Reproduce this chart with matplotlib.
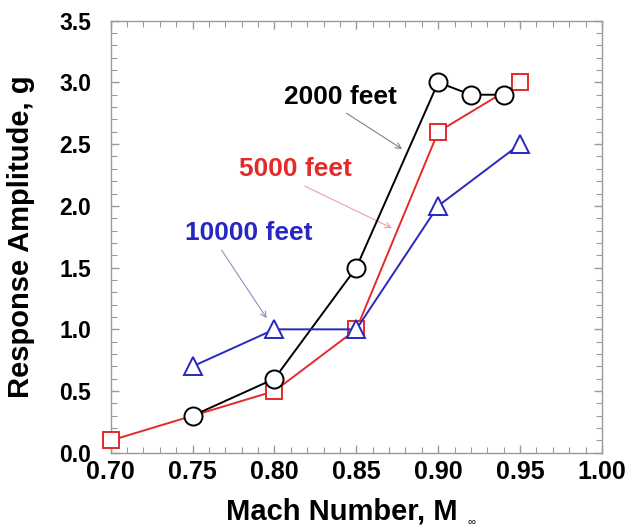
import matplotlib
matplotlib.use("Agg")
import matplotlib.pyplot as plt
from matplotlib.ticker import MultipleLocator

plt.rcParams['font.family'] = ['Liberation Sans', 'DejaVu Sans']
plt.rcParams['font.weight'] = 'bold'

# response amplitude vs Mach number at three altitudes
mach_2000 = [0.75, 0.80, 0.85, 0.90, 0.92, 0.94]
amp_2000 = [0.3, 0.6, 1.5, 3.0, 2.9, 2.9]

mach_5000 = [0.70, 0.80, 0.85, 0.90, 0.95]
amp_5000 = [0.1, 0.5, 1.0, 2.6, 3.0]

mach_10000 = [0.75, 0.80, 0.85, 0.90, 0.95]
amp_10000 = [0.7, 1.0, 1.0, 2.0, 2.5]

red = '#e42a2a'
blue = '#2828c0'
gray = '#9a9a9a'

fig = plt.figure(figsize=(6.29, 5.29), dpi=100)
ax = fig.add_axes([0.176, 0.144, 0.781, 0.817])

ax.plot(mach_5000, amp_5000, color=red, lw=1.4, marker='s', ms=11,
        mfc='white', mec=red, mew=1.4, zorder=3, clip_on=False)
ax.plot(mach_2000, amp_2000, color='black', lw=1.4, marker='o', ms=13,
        mfc='white', mec='black', mew=1.4, zorder=4, clip_on=False)
ax.plot(mach_10000, amp_10000, color=blue, lw=1.4, marker='^', ms=13,
        mfc='white', mec=blue, mew=1.4, zorder=5, clip_on=False)

# altitude labels with thin pointer arrows
labels = [('2000 feet', 'black', '#808080', (0.840, 2.88), (0.844, 2.75), (0.878, 2.46)),
          ('5000 feet', red, '#f0a0a0', (0.813, 2.30), (0.8185, 2.16), (0.8717, 1.82)),
          ('10000 feet', blue, '#9090c0', (0.784, 1.78), (0.7678, 1.64), (0.7953, 1.09))]
for txt, col, acol, pos, start, end in labels:
    ax.text(pos[0], pos[1], txt, color=col, fontsize=19, fontweight='bold',
            ha='center', va='center')
    ax.annotate('', xy=end, xytext=start,
                arrowprops=dict(arrowstyle='->', color=acol, lw=0.8,
                                shrinkA=0, shrinkB=0))

ax.set_xlim(0.70, 1.00)
ax.set_ylim(0.0, 3.5)
ax.xaxis.set_major_locator(MultipleLocator(0.05))
ax.xaxis.set_minor_locator(MultipleLocator(0.01))
ax.yaxis.set_major_locator(MultipleLocator(0.5))
ax.yaxis.set_minor_locator(MultipleLocator(0.1))
ax.xaxis.set_major_formatter(lambda v, p: f'{v:.2f}')
ax.yaxis.set_major_formatter(lambda v, p: f'{v:.1f}')

ax.tick_params(which='both', direction='in', top=True, right=True, color=gray)
ax.tick_params(which='major', length=6, width=1)
ax.tick_params(which='minor', length=4, width=0.8)
ax.tick_params(axis='x', labelsize=18, pad=5)
ax.tick_params(axis='y', labelsize=16.5, pad=14)
for s in ax.spines.values():
    s.set_color(gray)
    s.set_linewidth(1)

ax.set_xlabel('Mach Number, M', fontsize=21, fontweight='bold')
ax.xaxis.set_label_coords(0.4695, -0.104)
ax.text(0.735, -0.158, '\u221e', transform=ax.transAxes, fontsize=8,
        fontweight='normal', ha='center', va='center', color='black')
ax.set_ylabel('Response Amplitude, g', fontsize=21, fontweight='bold')
ax.yaxis.set_label_coords(-0.155, 0.5)

fig.savefig('out.png', dpi=100)
